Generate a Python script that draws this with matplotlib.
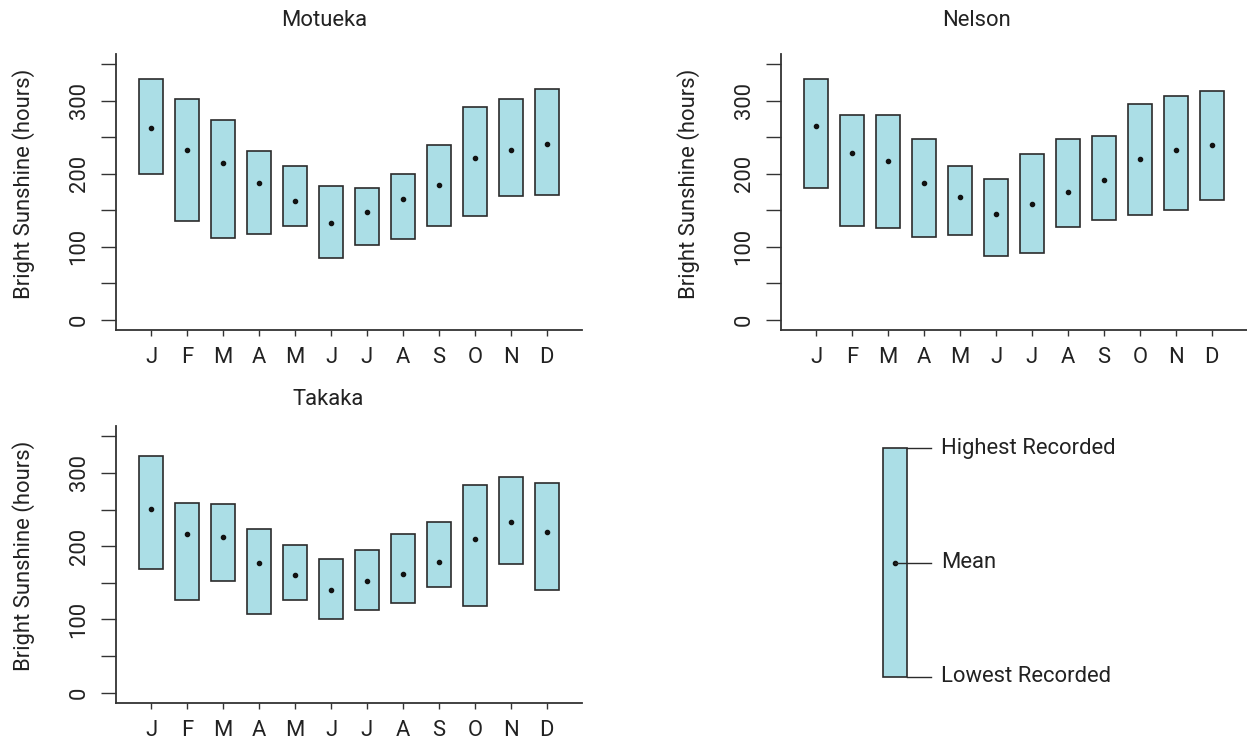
"""Monthly bright sunshine ranges for three Nelson/Tasman stations."""

import matplotlib.pyplot as plt

plt.rcParams["font.family"] = ["Roboto", "DejaVu Sans"]

months = ["J", "F", "M", "A", "M", "J", "J", "A", "S", "O", "N", "D"]

motueka_high = [330, 302, 273, 231, 210, 183, 181, 199, 239, 291, 303, 316]
motueka_low = [200, 135, 112, 117, 128, 84, 102, 110, 128, 142, 170, 171]
motueka_mean = [263, 233, 215, 188, 162, 133, 147, 166, 184, 222, 233, 241]

nelson_high = [330, 280, 280, 248, 211, 193, 227, 248, 252, 296, 306, 314]
nelson_low = [181, 128, 126, 113, 116, 87, 91, 127, 136, 143, 151, 164]
nelson_mean = [266, 228, 217, 188, 168, 145, 159, 175, 192, 220, 232, 240]

takaka_high = [323, 259, 258, 224, 201, 183, 195, 216, 233, 284, 295, 286]
takaka_low = [169, 127, 153, 108, 127, 101, 113, 123, 144, 118, 176, 140]
takaka_mean = [251, 216, 213, 177, 161, 140, 153, 162, 179, 210, 233, 220]

W, H = 1247, 742
FILL = "#abdee6"
EDGE = "#2b2b2b"
TEXT = "#222222"
FS = 15.8


def px_rect(left, top, right, bottom):
    return [left / W, 1 - bottom / H, (right - left) / W, (bottom - top) / H]


def panel(fig, rect, title, title_xy, high, low, mean):
    ax = fig.add_axes(px_rect(*rect))
    x = range(1, len(months) + 1)
    heights = [h - l for h, l in zip(high, low)]
    ax.bar(x, heights, bottom=low, width=0.67, color=FILL,
           edgecolor=EDGE, linewidth=1.2, zorder=2)
    ax.plot(x, mean, "o", color="#111111", markersize=3, zorder=3)

    ax.set_xlim(0.02, 12.98)
    ax.set_ylim(-14, 364)
    ax.set_xticks(list(x))
    ax.set_xticklabels(months, fontsize=FS, color=TEXT)
    ax.set_yticks([0, 100, 200, 300])
    ax.set_yticklabels(["0", "100", "200", "300"], rotation=90,
                       va="center", fontsize=FS, color=TEXT)
    ax.set_yticks([50, 150, 250, 350], minor=True)
    ax.tick_params(axis="y", which="both", length=11, width=1,
                   color="#333333", pad=8)
    ax.tick_params(axis="x", length=4.5, width=1, color="#333333", pad=8)
    for side in ("top", "right"):
        ax.spines[side].set_visible(False)
    for side in ("left", "bottom"):
        ax.spines[side].set_color("#333333")
        ax.spines[side].set_linewidth(1.3)
    ax.set_ylabel("Bright Sunshine (hours)", fontsize=FS, color=TEXT,
                  labelpad=24, y=0.53)
    fig.text(title_xy[0] / W, 1 - title_xy[1] / H, title, fontsize=FS,
             color=TEXT, ha="center", va="center")
    return ax


fig = plt.figure(figsize=(W / 100, H / 100), dpi=100)

panel(fig, (116, 54, 582, 330), "Motueka", (324, 20),
      motueka_high, motueka_low, motueka_mean)
panel(fig, (781, 54, 1247, 330), "Nelson", (977, 20),
      nelson_high, nelson_low, nelson_mean)
panel(fig, (116, 426, 582, 703), "Takaka", (328, 400),
      takaka_high, takaka_low, takaka_mean)

# key explaining the boxes
key = fig.add_axes(px_rect(870, 440, 1200, 685))
key.set_xlim(0, 330)
key.set_ylim(-0.035, 1.035)
key.axis("off")
key.bar([25], [1], bottom=[0], width=24, color=FILL, edgecolor=EDGE,
        linewidth=1.2)
key.plot([25], [0.5], "o", color="#111111", markersize=3)
key.plot([37, 61], [1, 1], color=EDGE, linewidth=1)
key.plot([25, 61], [0.5, 0.5], color=EDGE, linewidth=1)
key.plot([37, 61], [0, 0], color=EDGE, linewidth=1)
for yv, label in [(1, "Highest Recorded"), (0.5, "Mean"),
                  (0, "Lowest Recorded")]:
    key.text(71, yv, label, fontsize=FS, color=TEXT, va="center",
             ha="left")

fig.savefig("out.png", dpi=100)
